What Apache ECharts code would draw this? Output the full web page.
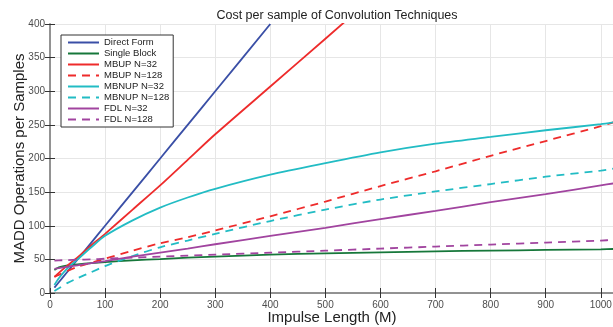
<!DOCTYPE html>
<html>
<head>
<meta charset="utf-8">
<script src="https://cdn.jsdelivr.net/npm/echarts@6/dist/echarts.min.js"></script>
<style>
  html, body { margin: 0; padding: 0; background: #fff; }
  #chart { width: 613px; height: 327px; }
</style>
</head>
<body>
<div id="chart"></div>
<script>
// impulse lengths (M) the curves were read at
const impulseLength = [8, 16, 32, 50, 75, 100, 150, 200, 250, 300, 400, 500, 600, 700, 800, 900, 1000, 1024];

// MADD per sample
const directForm = [8, 16, 32, 50, 75, 100, 150, 200, 250, 300, 400, null, null, null, null, null, null, null];
const singleBlock = [34, 38, 41, 42.5, 44.5, 46, 48.5, 50.5, 52.5, 54, 57, 59, 60.5, 62, 63, 64, 65, 65.5];
const mbup32 = [24, 30, 41, 53, 71, 88, 124, 160, 198, 236, 307, 378, 450, null, null, null, null, null];
const mbup128 = [24, 27, 33, 39, 45, 51, 63, 74, 83, 93, 114, 136, 159, 181, 204, 226, 248, 254];
const mbnup32 = [12, 22, 37, 50, 68, 85, 108, 127, 142, 155, 176, 193, 209, 222, 232, 242, 251, 254];
const mbnup128 = [3, 7, 15, 22, 31, 40, 55, 68, 78, 88, 107, 124, 139, 151, 162, 173, 182, 185];
const fdl32 = [36, 37, 39, 41, 44.5, 47.5, 54, 60, 66, 72.5, 85, 97, 110, 122, 135, 147, 160, 163];
const fdl128 = [48, 48.5, 49, 49.5, 50, 51, 52.5, 54, 55.5, 57, 60, 63, 66, 69, 72, 75, 78, 79];

const seriesNames = ['Direct Form', 'Single Block', 'MBUP N=32', 'MBUP N=128', 'MBNUP N=32', 'MBNUP N=128', 'FDL N=32', 'FDL N=128'];
const seriesValues = [directForm, singleBlock, mbup32, mbup128, mbnup32, mbnup128, fdl32, fdl128];
const seriesColors = ['#3a4fa6', '#16773a', '#ee2b2b', '#ee2b2b', '#22bcc4', '#22bcc4', '#a1449f', '#a1449f'];
const seriesDashed = [false, false, false, true, false, true, false, true];

const FONT = '"Liberation Sans", Arial, Helvetica, sans-serif';

const pairs = (vals) => impulseLength.map((m, i) => [m, vals[i]]);

const myChart = echarts.init(document.getElementById('chart'), null, { renderer: 'canvas' });

const boxAxis = {
  axisLine: { show: true, lineStyle: { color: '#8c8c8c', width: 1.5 } },
  axisTick: { show: true, inside: true, length: 5, lineStyle: { color: '#333' } },
  axisLabel: { show: false },
  splitLine: { show: false }
};

const chartOption = {
  animation: false,
  backgroundColor: '#ffffff',
  textStyle: { fontFamily: FONT },
  title: {
    text: 'Cost per sample of Convolution Techniques',
    left: 332,
    textAlign: 'center',
    top: 4,
    textStyle: { fontFamily: FONT, fontSize: 12.5, fontWeight: 'normal', color: '#222' }
  },
  grid: { left: 50, right: -1, top: 24, bottom: 34, outerBoundsMode: 'none', containLabel: false },
  legend: {
    orient: 'vertical',
    left: 61,
    top: 35,
    padding: [2, 4, 2, 6],
    itemGap: 0,
    itemWidth: 31,
    itemHeight: 8,
    borderColor: '#333',
    borderWidth: 1,
    backgroundColor: '#ffffff',
    itemStyle: { opacity: 0 },
    textStyle: { fontFamily: FONT, fontSize: 9.5, color: '#222', lineHeight: 11 },
    data: seriesNames
  },
  xAxis: [{
    type: 'value',
    min: 0,
    max: 1024,
    interval: 100,
    name: 'Impulse Length (M)',
    nameLocation: 'middle',
    nameGap: 17,
    nameMoveOverlap: false,
    nameTextStyle: { fontFamily: FONT, fontSize: 15, color: '#222', verticalAlign: 'top' },
    axisLine: { lineStyle: { color: '#8c8c8c', width: 1.5 } },
    axisTick: { inside: true, length: 5, lineStyle: { color: '#333' } },
    axisLabel: { showMaxLabel: false, color: '#4d4d4d', fontSize: 10, margin: 7, fontFamily: FONT,
      formatter: (v) => String(v) },
    splitLine: { show: true, lineStyle: { color: '#e6e6e6', width: 1 } }
  }, Object.assign({ type: 'value', position: 'top', min: 0, max: 1024, interval: 100 }, boxAxis)],
  yAxis: [{
    type: 'value',
    min: 0,
    max: 400,
    interval: 50,
    name: 'MADD Operations per Samples',
    nameLocation: 'middle',
    nameGap: 23,
    nameMoveOverlap: false,
    nameTextStyle: { fontFamily: FONT, fontSize: 15, color: '#222' },
    axisLine: { show: true, lineStyle: { color: '#8c8c8c', width: 1.5 } },
    axisTick: { show: true, inside: true, length: 5, lineStyle: { color: '#333' } },
    axisLabel: { color: '#4d4d4d', fontSize: 10, margin: 5, fontFamily: FONT },
    splitLine: { show: true, lineStyle: { color: '#e6e6e6', width: 1 } }
  }, Object.assign({ type: 'value', position: 'right', min: 0, max: 400, interval: 50 }, boxAxis)],
  series: seriesNames.map((name, i) => ({
    name: name,
    type: 'line',
    data: pairs(seriesValues[i]),
    showSymbol: false,
    symbol: 'none',
    smooth: 0.25,
    clip: true,
    color: seriesColors[i],
    lineStyle: { width: 1.8, color: seriesColors[i], type: seriesDashed[i] ? [8, 6] : 'solid' }
  }))
};

myChart.setOption(chartOption);
</script>
</body>
</html>
